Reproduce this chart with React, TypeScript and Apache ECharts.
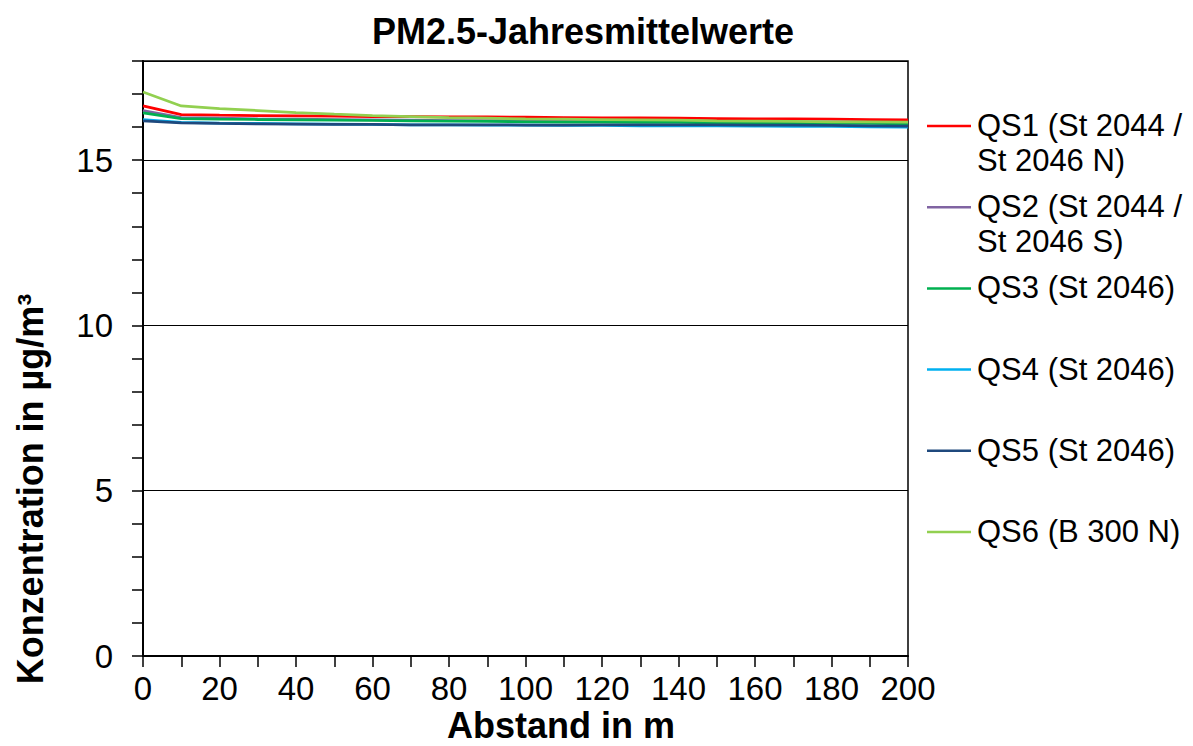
import React, { useEffect, useRef } from "react";
import * as echarts from "echarts";

const distances = [0, 10, 20, 30, 40, 50, 60, 70, 80, 90, 100, 110, 120, 130, 140, 150, 160, 170, 180, 190, 200];

const seriesNames = [
  "QS1 (St 2044 /\nSt 2046 N)",
  "QS2 (St 2044 /\nSt 2046 S)",
  "QS3 (St 2046)",
  "QS4 (St 2046)",
  "QS5 (St 2046)",
  "QS6 (B 300 N)",
];

const seriesColors = ["#FF0000", "#8064A2", "#00B050", "#00B0F0", "#1F497D", "#92D050"];

const qs1 = [16.64, 16.38, 16.36, 16.35, 16.34, 16.33, 16.32, 16.32, 16.31, 16.31, 16.30, 16.29, 16.28, 16.28, 16.27, 16.26, 16.25, 16.25, 16.24, 16.23, 16.22];
const qs2 = [16.50, 16.29, 16.27, 16.25, 16.24, 16.23, 16.22, 16.21, 16.20, 16.20, 16.19, 16.18, 16.18, 16.17, 16.17, 16.16, 16.16, 16.15, 16.15, 16.14, 16.14];
const qs3 = [16.43, 16.26, 16.24, 16.23, 16.22, 16.21, 16.20, 16.19, 16.18, 16.17, 16.16, 16.15, 16.15, 16.14, 16.14, 16.13, 16.13, 16.12, 16.11, 16.11, 16.10];
const qs4 = [16.23, 16.14, 16.12, 16.11, 16.10, 16.09, 16.08, 16.07, 16.07, 16.06, 16.06, 16.05, 16.05, 16.04, 16.04, 16.04, 16.03, 16.02, 16.02, 16.01, 16.00];
const qs5 = [16.19, 16.13, 16.11, 16.10, 16.09, 16.08, 16.08, 16.07, 16.07, 16.07, 16.06, 16.06, 16.07, 16.07, 16.07, 16.07, 16.06, 16.06, 16.05, 16.04, 16.03];
const qs6 = [17.06, 16.64, 16.56, 16.50, 16.44, 16.39, 16.35, 16.32, 16.29, 16.27, 16.25, 16.24, 16.23, 16.22, 16.21, 16.19, 16.18, 16.17, 16.16, 16.16, 16.15];

const seriesValues = [qs1, qs2, qs3, qs4, qs5, qs6];

const titleText = "PM2.5-Jahresmittelwerte";
const xAxisTitle = "Abstand in m";
const yAxisTitle = "Konzentration in µg/m³";

const FONT = "Arial, 'Liberation Sans', sans-serif";

export default function App() {
  const ref = useRef<HTMLDivElement>(null);

  useEffect(() => {
    if (!ref.current) return;
    const chart = echarts.init(ref.current, undefined, { renderer: "svg" });

    const legendTop = 126;
    const legendGap = 81.2;
    const legendGraphics: any[] = [];
    seriesNames.forEach((name, i) => {
      const y = legendTop + i * legendGap;
      legendGraphics.push({
        type: "line",
        shape: { x1: 927, y1: y, x2: 971, y2: y },
        style: { stroke: seriesColors[i], lineWidth: 2.5 },
      });
      legendGraphics.push({
        type: "text",
        x: 977,
        y: y - 18,
        style: {
          text: name,
          font: `31px ${FONT}`,
          fill: "#000",
          lineHeight: 35,
          verticalAlign: "top",
          align: "left",
        },
      });
    });

    const option: any = {
      animation: false,
      backgroundColor: "#fff",
      title: {
        text: titleText,
        left: 578,
        top: 8,
        textAlign: "center",
        textStyle: { fontFamily: FONT, fontWeight: "bold", fontSize: 36, color: "#000" },
      },
      grid: {
        left: 143,
        right: 285,
        top: 61,
        bottom: 90,
        show: true,
        borderColor: "#000",
        borderWidth: 1.5,
        backgroundColor: "transparent",
      },
      xAxis: {
        type: "value",
        min: 0,
        max: 200,
        interval: 10,
        axisLine: { show: true, lineStyle: { color: "#000", width: 2 } },
        axisTick: { show: true, length: 11, lineStyle: { color: "#000", width: 1.5 } },
        axisLabel: {
          margin: 16,
          fontFamily: FONT,
          fontSize: 33,
          color: "#000",
          formatter: (v: number) => (v % 20 === 0 ? String(v) : ""),
        },
        splitLine: { show: false },
      },
      yAxis: [
        {
          type: "value",
          min: 0,
          max: 18,
          interval: 1,
          axisLine: { show: true, lineStyle: { color: "#000", width: 2 } },
          axisTick: { show: true, length: 11, lineStyle: { color: "#000", width: 1.5 } },
          axisLabel: {
            margin: 30,
            fontFamily: FONT,
            fontSize: 33,
            color: "#000",
            formatter: (v: number) => (v % 5 === 0 ? String(v) : ""),
          },
          splitLine: { show: false },
        },
        {
          type: "value",
          min: 0,
          max: 18,
          interval: 5,
          position: "left",
          axisLine: { show: false },
          axisTick: { show: false },
          axisLabel: { show: false },
          splitLine: { show: true, lineStyle: { color: "#000", width: 1 } },
        },
      ],
      series: seriesNames.map((name, i) => ({
        name,
        type: "line",
        yAxisIndex: 0,
        data: distances.map((d, j) => [d, seriesValues[i][j]]),
        symbol: "none",
        showSymbol: false,
        lineStyle: { color: seriesColors[i], width: 2.75 },
        itemStyle: { color: seriesColors[i] },
        z: 3,
      })),
      graphic: [
        ...legendGraphics,
        {
          type: "text",
          x: 561,
          y: 725,
          style: {
            text: xAxisTitle,
            font: `bold 36px ${FONT}`,
            lineHeight: 36,
            fill: "#000",
            align: "center",
            verticalAlign: "middle",
          },
        },
        {
          type: "text",
          x: 30,
          y: 489,
          rotation: Math.PI / 2,
          style: {
            text: yAxisTitle,
            font: `bold 36px ${FONT}`,
            fill: "#000",
            align: "center",
            verticalAlign: "middle",
          },
        },
      ],
    };

    chart.setOption(option);
    return () => chart.dispose();
  }, []);

  return (
    <div
      ref={ref}
      style={{ position: "fixed", left: 0, top: 0, width: 1193, height: 746 }}
    />
  );
}
